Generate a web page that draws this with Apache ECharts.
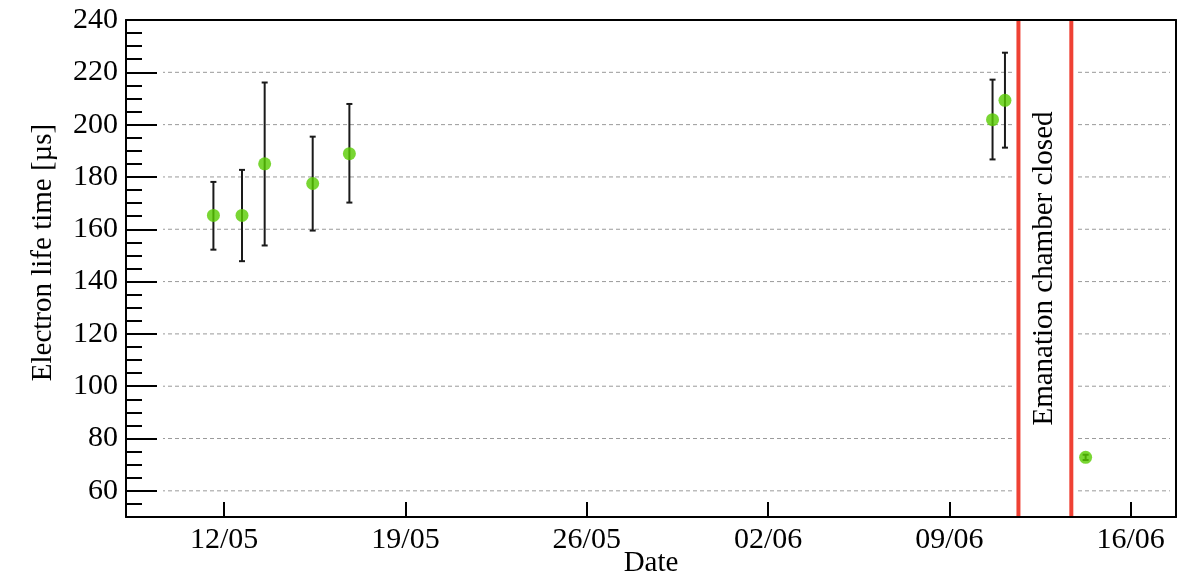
<!DOCTYPE html>
<html>
<head>
<meta charset="utf-8">
<script src="https://cdn.jsdelivr.net/npm/echarts@6/dist/echarts.min.js"></script>
<style>
  html, body { margin: 0; padding: 0; background: #fff; }
  #chart { width: 1187px; height: 575px; }
</style>
</head>
<body>
<div id="chart"></div>
<script>
// Measurement times (UTC) and electron lifetime with its uncertainty interval [µs]
const measTimes = ['2015-05-11 14:00', '2015-05-12 16:30', '2015-05-13 13:30', '2015-05-15 10:00',
                   '2015-05-16 20:00', '2015-06-10 16:00', '2015-06-11 03:30', '2015-06-14 06:15'];
const lifetime     = [165.3, 165.3, 185.0, 177.5, 188.9, 201.9, 209.3, 72.8];
const lifetimeLow  = [152.2, 147.8, 153.8, 159.5, 170.2, 186.7, 191.2, 71.8];
const lifetimeHigh = [178.1, 182.7, 216.1, 195.4, 207.9, 217.2, 227.5, 73.8];

// Period during which the emanation chamber was closed
const closedPeriod = ['2015-06-11 16:00', '2015-06-13 17:00'];
const closedText = 'Emanation chamber closed';

// Axes: ranges, labelled ticks and titles
const dateRange = ['2015-05-08 05:00', '2015-06-17 18:00'];
const dateTicks = ['2015-05-12', '2015-05-19', '2015-05-26', '2015-06-02', '2015-06-09', '2015-06-16'];
const dateTickLabels = ['12/05', '19/05', '26/05', '02/06', '09/06', '16/06'];
const lifetimeRange = [50, 240];
const lifetimeTicks = [60, 80, 100, 120, 140, 160, 180, 200, 220, 240];
const gridValues = [60, 80, 100, 120, 140, 160, 180, 200, 220];
const xTitle = 'Date';
const yTitle = 'Electron life time [µs]';

// Dates are placed on a linear axis counted in days from 1 May
const EPOCH = Date.UTC(2015, 4, 1);
function toDays(s) {
  const [d, t = '00:00'] = s.split(' ');
  const [Y, M, D] = d.split('-').map(Number);
  const [h, m] = t.split(':').map(Number);
  return (Date.UTC(Y, M - 1, D, h, m) - EPOCH) / 864e5;
}

const FONT = '"Liberation Serif", "Times New Roman", serif';
const FS = 29;
const FS_TICK = 30;
const INK = '#000';

const xMin = toDays(dateRange[0]);
const xMax = toDays(dateRange[1]);
const tickDays = dateTicks.map(toDays);
const pointData = measTimes.map((t, i) => [toDays(t), lifetime[i]]);
const errData = measTimes.map((t, i) => [toDays(t), lifetimeLow[i], lifetimeHigh[i]]);
const closedData = [[toDays(closedPeriod[0]), toDays(closedPeriod[1])]];

function dateLabel(v) {
  const i = tickDays.findIndex(d => Math.abs(d - v) < 1e-6);
  return i >= 0 ? dateTickLabels[i] : '';
}

const chart = echarts.init(document.getElementById('chart'), null, { renderer: 'canvas' });

const frameLine = { show: true, lineStyle: { color: INK, width: 2 } };
const hidden = { show: false };

chart.setOption({
  animation: false,
  backgroundColor: '#fff',
  grid: { left: 126, right: 11, top: 20, bottom: 58, containLabel: false, outerBoundsMode: 'none' },
  xAxis: [
    {
      type: 'value', min: xMin, max: xMax, position: 'bottom', z: 10,
      axisLine: frameLine,
      axisTick: { show: true, inside: true, length: 15, customValues: tickDays,
                  lineStyle: { color: INK, width: 2 } },
      axisLabel: { show: true, customValues: tickDays, formatter: dateLabel, margin: 8,
                   color: INK, fontFamily: FONT, fontSize: FS_TICK },
      splitLine: hidden,
      name: xTitle, nameLocation: 'middle', nameGap: 32, nameMoveOverlap: false,
      nameTextStyle: { color: INK, fontFamily: FONT, fontSize: FS }
    },
    {
      type: 'value', min: xMin, max: xMax, position: 'top', z: 10,
      axisLine: frameLine, axisTick: hidden, axisLabel: hidden, splitLine: hidden
    }
  ],
  yAxis: [
    {
      // frame line and minor ticks every 5 µs
      type: 'value', min: lifetimeRange[0], max: lifetimeRange[1], interval: 5, position: 'left', z: 10,
      axisLine: frameLine,
      axisTick: { show: true, inside: true, length: 16, lineStyle: { color: INK, width: 2 } },
      axisLabel: hidden, splitLine: hidden
    },
    {
      // major ticks, labels and title
      type: 'value', min: lifetimeRange[0], max: lifetimeRange[1], interval: 5, position: 'left', z: 10,
      axisLine: hidden,
      axisTick: { show: true, inside: true, length: 31, customValues: lifetimeTicks,
                  lineStyle: { color: INK, width: 2 } },
      axisLabel: { show: true, customValues: lifetimeTicks, margin: 8,
                   color: INK, fontFamily: FONT, fontSize: FS_TICK },
      splitLine: hidden,
      name: yTitle, nameLocation: 'middle', nameGap: 68, nameMoveOverlap: false,
      nameTextStyle: { color: INK, fontFamily: FONT, fontSize: FS, padding: [0, 0, 0, 32] }
    },
    {
      type: 'value', min: lifetimeRange[0], max: lifetimeRange[1], position: 'right', z: 10,
      axisLine: frameLine, axisTick: hidden, axisLabel: hidden, splitLine: hidden
    }
  ],
  series: [
    {
      // dashed horizontal grid
      type: 'custom', name: 'grid', z: 1, silent: true,
      data: gridValues.map(v => [xMin, v]),
      encode: { x: 0, y: 1 },
      renderItem(params, api) {
        const cs = params.coordSys;
        const p = api.coord([api.value(0), api.value(1)]);
        return { type: 'line',
                 shape: { x1: cs.x, y1: p[1], x2: cs.x + cs.width, y2: p[1] },
                 style: { stroke: '#9a9a9a', lineWidth: 1, lineDash: [4, 3] } };
      }
    },
    {
      // closed-chamber period: cleared band, red markers and note
      type: 'custom', name: 'closed', z: 3, silent: true,
      data: closedData,
      encode: { x: [0, 1] },
      renderItem(params, api) {
        const cs = params.coordSys;
        const a = api.coord([api.value(0), lifetimeRange[0]])[0];
        const b = api.coord([api.value(1), lifetimeRange[0]])[0];
        const top = cs.y, h = cs.height;
        const white = { fill: '#fff' };
        return {
          type: 'group',
          children: [
            { type: 'rect', shape: { x: cs.x, y: top + 1, width: 37, height: h - 2 }, style: white },
            { type: 'rect', shape: { x: cs.x + cs.width - 6, y: top + 1, width: 6, height: h - 2 }, style: white },
            { type: 'rect', shape: { x: a - 5, y: top + 1, width: b - a + 10, height: h - 2 }, style: white },
            { type: 'line', shape: { x1: a, y1: top, x2: a, y2: top + h },
              style: { stroke: '#ef4134', lineWidth: 4 } },
            { type: 'line', shape: { x1: b, y1: top, x2: b, y2: top + h },
              style: { stroke: '#ef4134', lineWidth: 4 } },
            { type: 'text', x: (a + b) / 2, y: top + h / 2, rotation: Math.PI / 2,
              style: { text: closedText, fill: INK, fontFamily: FONT, fontSize: FS,
                       align: 'center', verticalAlign: 'middle' } }
          ]
        };
      }
    },
    {
      // uncertainty bars
      type: 'custom', name: 'errors', z: 4, silent: true,
      data: errData,
      encode: { x: 0, y: [1, 2] },
      renderItem(params, api) {
        const x = api.value(0);
        const lo = api.coord([x, api.value(1)]);
        const hi = api.coord([x, api.value(2)]);
        const cap = 3;
        const st = { stroke: '#1a1a1a', lineWidth: 2 };
        return {
          type: 'group',
          children: [
            { type: 'line', shape: { x1: lo[0], y1: lo[1], x2: hi[0], y2: hi[1] }, style: st },
            { type: 'line', shape: { x1: lo[0] - cap, y1: lo[1], x2: lo[0] + cap, y2: lo[1] }, style: st },
            { type: 'line', shape: { x1: hi[0] - cap, y1: hi[1], x2: hi[0] + cap, y2: hi[1] }, style: st }
          ]
        };
      }
    },
    {
      type: 'scatter', name: 'lifetime', z: 5,
      data: pointData,
      symbol: 'circle', symbolSize: 13,
      itemStyle: { color: '#58cc00' }
    }
  ]
});
</script>
</body>
</html>
